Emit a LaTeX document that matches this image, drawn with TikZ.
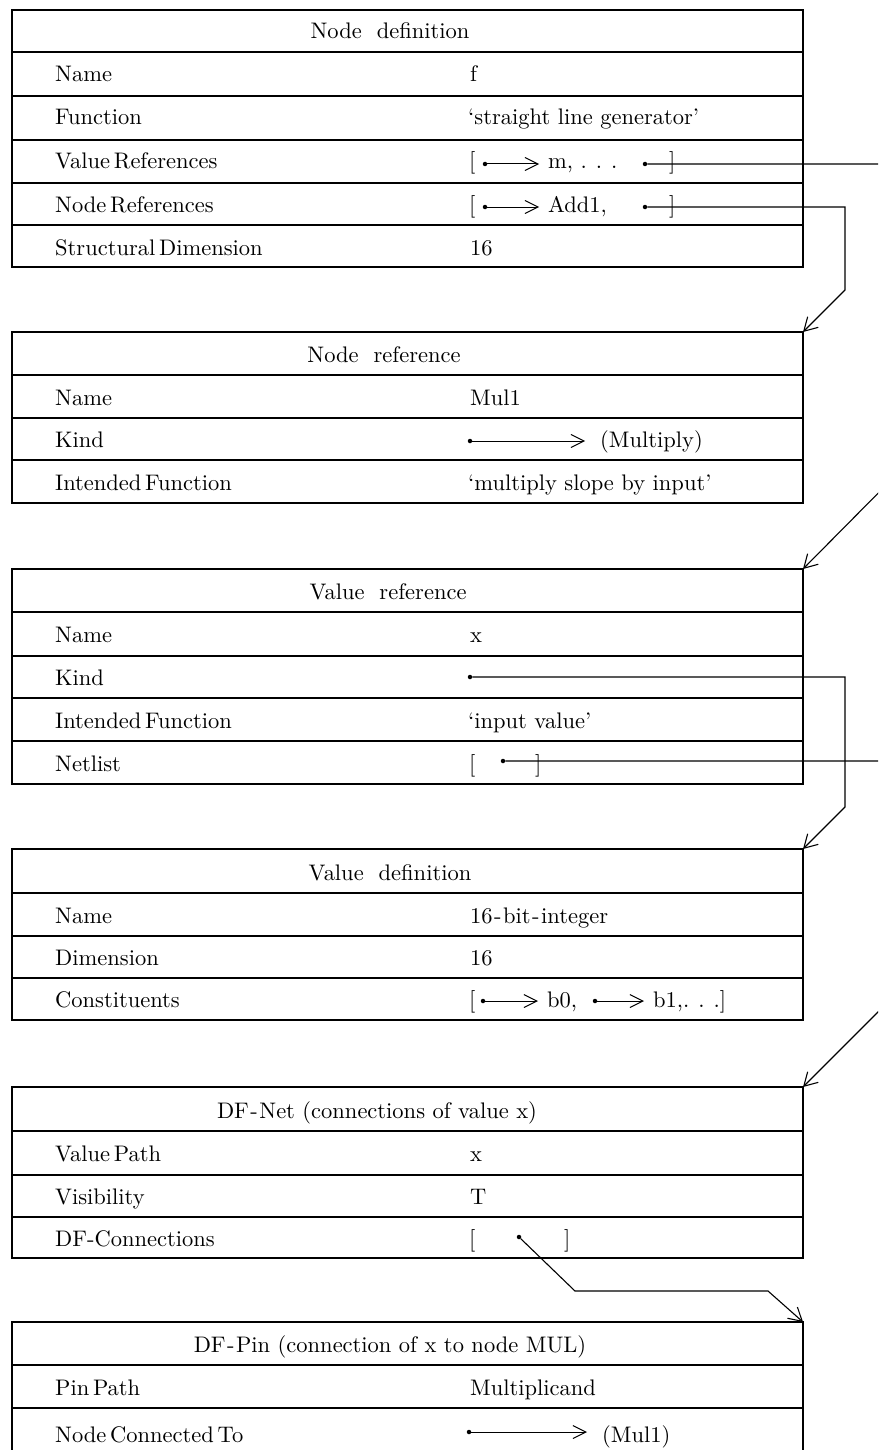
\documentclass[tikz,border=0pt]{standalone}
\usepackage{fontspec}
\usetikzlibrary{arrows.meta}
\newfontfamily\tenrm{lmroman10-regular}[Extension=.otf, Ligatures=TeX]
\newcommand\recordbox[4]{% name, top, bottom, row rules
  \pgfmathsetmacro\boxh{#3-#2}%
  \node[frame, minimum height=\boxh pt] (#1) at (12,#2) {};
  \foreach \yy in {#4}{\draw[rowrule] (12,\yy) -- (803,\yy);}
}
\newcommand\spdots{.\kern0.4em.\kern0.4em.}
\newcommand\hy{\kern1.5pt-\kern1.5pt}
\begin{document}
\begin{tikzpicture}[x=1pt,y=-1pt,
  frame/.style={draw, line width=1.7pt, inner sep=0pt, outer sep=0pt,
                anchor=north west, minimum width=791pt},
  rowrule/.style={line width=1.2pt},
  txt/.style={anchor=base west, inner sep=0pt, font=\tenrm\fontsize{22.5}{27}\selectfont},
  hdr/.style={anchor=base, inner sep=0pt, font=\tenrm\fontsize{22.5}{27}\selectfont},
  dot/.style={circle, fill, inner sep=0pt, minimum size=4.5pt},
  ptr/.style={line width=1pt, -{Straight Barb[length=13pt,width=13pt,line width=1pt]}},
  link/.style={line width=1.1pt, -{Straight Barb[length=13pt,width=15pt,line width=1.1pt]}},
]
\path[use as bounding box, clip] (0,0) rectangle (878,1450);
\fill[white] (0,0) rectangle (878,1450);

% ---------------- Node definition ----------------
\recordbox{b1}{10}{267}{52,96,140,183,225}
\node[hdr] (h1) at (390,39) {Node\ \ definition};
\node[txt] (l11) at (55,82)  {Name};
\node[txt] (l12) at (55,125) {Function};
\node[txt] (l13) at (55,169) {Value\,References};
\node[txt] (l14) at (55,212) {Node\,References};
\node[txt] (l15) at (55,255) {Structural\,Dimension};
\node[txt] (v11) at (470,82)  {f};
\node[txt] (v12) at (468,125) {`straight line generator'};
% value references
\node[txt] (v13a) at (469,169) {[};
\node[dot] (v13d) at (485,164) {};
\node[txt] (v13m) at (548,169) {m,\ \spdots};
\node[dot] (v13e) at (645,164) {};
\node[txt] (v13b) at (669,169) {]};
\draw[ptr, shorten >=9pt] (v13d) -- (v13d -| v13m.west);
% node references
\node[txt] (v14a) at (469,212) {[};
\node[dot] (v14d) at (485,207) {};
\node[txt] (v14m) at (548,212) {Add1,};
\node[dot] (v14e) at (645,207) {};
\node[txt] (v14b) at (669,212) {]};
\draw[ptr, shorten >=9pt] (v14d) -- (v14d -| v14m.west);
\node[txt] (v15) at (470,255) {16};

% ---------------- Node reference ----------------
\recordbox{b2}{332}{503}{375,418,460}
\node[hdr] (h2) at (384,362) {Node\ \ reference};
\node[txt] (l21) at (55,405) {Name};
\node[txt] (l22) at (55,447) {Kind};
\node[txt] (l23) at (55,490) {Intended\,Function};
\node[txt] (v21) at (470,405) {Mul1};
\node[dot] (v22d) at (470,441) {};
\node[txt] (v22m) at (600,447) {(Multiply)};
\draw[ptr, shorten >=15pt] (v22d) -- (v22d -| v22m.west);
\node[txt] (v23) at (468,490) {`multiply slope by input'};

% ---------------- Value reference ----------------
\recordbox{b3}{569}{784}{612,656,698,741}
\node[hdr] (h3) at (388,599) {Value\ \ reference};
\node[txt] (l31) at (55,642) {Name};
\node[txt] (l32) at (55,685) {Kind};
\node[txt] (l33) at (55,728) {Intended\,Function};
\node[txt] (l34) at (55,771) {Netlist};
\node[txt] (v31) at (470,642) {x};
\node[dot] (v32d) at (470,677) {};
\node[txt] (v33) at (468,728) {`input value'};
\node[txt] (v34a) at (469,771) {[};
\node[dot] (v34d) at (503,761) {};
\node[txt] (v34b) at (535,771) {]};

% ---------------- Value definition ----------------
\recordbox{b4}{849}{1020}{893,936,978}
\node[hdr] (h4) at (390,880) {Value\ \ definition};
\node[txt] (l41) at (55,923)  {Name};
\node[txt] (l42) at (55,965)  {Dimension};
\node[txt] (l43) at (55,1007) {Constituents};
\node[txt] (v41) at (470,923) {16\hy bit\hy integer};
\node[txt] (v42) at (470,965) {16};
\node[txt] (v43a) at (469,1007) {[};
\node[dot] (v43d) at (483,1001) {};
\node[txt] (v43m) at (547,1007) {b0,};
\node[dot] (v43e) at (595,1001) {};
\node[txt] (v43n) at (653,1007) {b1,\spdots]};
\draw[ptr, shorten >=9pt] (v43d) -- (v43d -| v43m.west);
\draw[ptr, shorten >=9pt] (v43e) -- (v43e -| v43n.west);

% ---------------- DF-Net ----------------
\recordbox{b5}{1087}{1258}{1131,1175,1217}
\node[hdr] (h5) at (377,1118) {DF\hy Net (connections of value x)};
\node[txt] (l51) at (55,1161) {Value\,Path};
\node[txt] (l52) at (55,1204) {Visibility};
\node[txt] (l53) at (55,1246) {DF-Connections};
\node[txt] (v51) at (470,1161) {x};
\node[txt] (v52) at (470,1204) {T};
\node[txt] (v53a) at (469,1246) {[};
\node[dot] (v53d) at (519,1237) {};
\node[txt] (v53b) at (564,1246) {]};

% ---------------- DF-Pin ----------------
\recordbox{b6}{1322}{1480}{1365,1408}
\node[hdr] (h6) at (390,1352) {DF\hy Pin (connection of x to node MUL)};
\node[txt] (l61) at (55,1395) {Pin\,Path};
\node[txt] (l62) at (55,1442) {Node\,Connected\,To};
\node[txt] (v61) at (470,1395) {Multiplicand};
\node[dot] (v62d) at (469,1432) {};
\node[txt] (v62m) at (602,1442) {(Mul1)};
\draw[ptr, shorten >=15pt] (v62d) -- (v62d -| v62m.west);

% ---------------- links between records ----------------
\draw[link] (v13e) -- (905,164) -- (905,466) -- (b3.north east);
\draw[link] (v14e) -- (845,207) -- (845,290) -- (b2.north east);
\draw[link] (v32d) -- (845,677) -- (845,807) -- (b4.north east);
\draw[link] (v34d) -- (905,761) -- (905,985) -- (b5.north east);
\draw[link] (v53d) -- (575,1291) -- (768,1291) -- (b6.north east);
\end{tikzpicture}
\end{document}
